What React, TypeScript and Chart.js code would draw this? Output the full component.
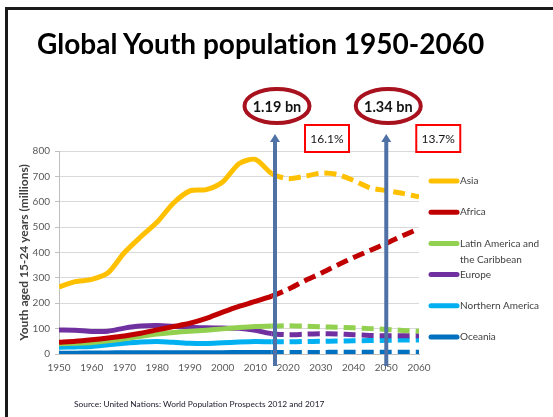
import { useEffect, useRef } from "react";
import { Chart, registerables } from "chart.js";

Chart.register(...registerables);

// ---- data ----
const years = [1950, 1955, 1960, 1965, 1970, 1975, 1980, 1985, 1990, 1995, 2000, 2005, 2010, 2015, 2020, 2025, 2030, 2035, 2040, 2045, 2050, 2055, 2060];
const asia = [265, 285, 294, 320, 400, 462, 520, 595, 643, 648, 678, 750, 767, 711, 691, 700, 713, 708, 684, 655, 644, 633, 619];
const africa = [46, 50, 56, 63, 71, 82, 95, 108, 121, 140, 165, 188, 207, 228, 255, 288, 318, 350, 380, 408, 436, 466, 494];
const latinAmerica = [40, 42, 45, 52, 60, 70, 79, 85, 90, 94, 99, 104, 108, 110, 111, 110, 107, 105, 103, 100, 97, 93, 90];
const europe = [95, 94, 89, 90, 102, 110, 112, 109, 105, 103, 102, 101, 93, 80, 76, 78, 80, 79, 76, 73, 72, 72, 72];
const northernAmerica = [27, 28, 30, 36, 42, 47, 49, 46, 42, 41, 44, 47, 49, 48, 48, 49, 50, 51, 52, 53, 54, 55, 55];
const oceania = [3, 3, 4, 4, 5, 5, 5, 5, 5, 5, 5, 6, 6, 6, 6, 6, 6, 7, 7, 7, 7, 7, 7];

const seriesNames = ["Asia", "Africa", "Latin America and the Caribbean", "Europe", "Northern America", "Oceania"];
const seriesValues = [asia, africa, latinAmerica, europe, northernAmerica, oceania];
const seriesColors = ["#FFC000", "#C00000", "#92D050", "#7030A0", "#00B0F0", "#0070C0"];

const projectionFrom = 2015;
const xRange = [1950, 2060];
const xStep = 10;
const yRange = [0, 800];
const yStep = 100;

const markerYears = [2016, 2050];
const markerTotals = ["1.19 bn", "1.34 bn"];
const markerShares = ["16.1%", "13.7%"];

const titleText = "Global Youth population 1950-2060";
const yAxisTitle = "Youth aged 15-24 years (millions)";
const sourceText = "Source: United Nations: World Population Prospects 2012 and 2017";

const FONT = "Lato, 'Open Sans', sans-serif";

const framePlugin = {
  id: "frame",
  beforeDraw(chart: any) {
    const { ctx } = chart;
    ctx.save();
    ctx.strokeStyle = "#1a1a1a";
    ctx.lineWidth = 3;
    ctx.strokeRect(6.5, 8.5, 700, 700);
    ctx.restore();
  },
};

const overlayPlugin = {
  id: "overlay",
  afterDatasetsDraw(chart: any) {
    const { ctx, chartArea, scales } = chart;
    const x = scales.x;
    ctx.save();
    markerYears.forEach((yr, i) => {
      const px = x.getPixelForValue(yr);
      const top = chartArea.top - 17;
      const bottom = chartArea.bottom + 12;
      ctx.strokeStyle = "#4F71A6";
      ctx.fillStyle = "#4F71A6";
      ctx.lineWidth = 4;
      ctx.beginPath();
      ctx.moveTo(px, top + 6);
      ctx.lineTo(px, bottom);
      ctx.stroke();
      ctx.beginPath();
      ctx.moveTo(px, top);
      ctx.lineTo(px - 5, top + 8);
      ctx.lineTo(px + 5, top + 8);
      ctx.closePath();
      ctx.fill();

      const cx = px + 2;
      const cy = chartArea.top - 45;
      ctx.strokeStyle = "#A8111E";
      ctx.lineWidth = 4;
      ctx.beginPath();
      ctx.ellipse(cx, cy, 32.5, 17, 0, 0, Math.PI * 2);
      ctx.stroke();
      ctx.fillStyle = "#141414";
      ctx.font = `bold 14.5px ${FONT}`;
      ctx.textAlign = "center";
      ctx.textBaseline = "middle";
      ctx.fillText(markerTotals[i], cx, cy + 1);

      const bx = px + 30;
      const by = chartArea.top - 26;
      const bw = 44;
      const bh = 27;
      ctx.strokeStyle = "#FF0000";
      ctx.lineWidth = 2;
      ctx.strokeRect(bx, by, bw, bh);
      ctx.fillStyle = "#141414";
      ctx.font = `12px ${FONT}`;
      ctx.fillText(markerShares[i], bx + bw / 2, by + bh / 2 + 1);
    });
    ctx.restore();
  },
  afterDraw(chart: any) {
    const { ctx, chartArea } = chart;
    ctx.save();
    const lx = chartArea.right + 12;
    const y0 = chartArea.top + 30;
    const gap = 31.2;
    ctx.font = `10px ${FONT}`;
    ctx.textAlign = "left";
    ctx.textBaseline = "middle";
    chart.data.datasets.forEach((ds: any, i: number) => {
      const y = y0 + i * gap;
      ctx.strokeStyle = ds.borderColor;
      ctx.lineWidth = 5;
      ctx.lineCap = "round";
      ctx.beginPath();
      ctx.moveTo(lx, y);
      ctx.lineTo(lx + 26, y);
      ctx.stroke();
      ctx.fillStyle = "#404040";
      const words = String(ds.label).split(" ");
      const lines: string[] = [];
      let cur = "";
      words.forEach((w) => {
        const t = cur ? cur + " " + w : w;
        if (cur && ctx.measureText(t).width > 88) {
          lines.push(cur);
          cur = w;
        } else cur = t;
      });
      lines.push(cur);
      lines.forEach((ln, j) => ctx.fillText(ln, lx + 29, y + j * 16));
    });
    ctx.restore();
  },
};

export default function App() {
  const ref = useRef<HTMLCanvasElement | null>(null);

  useEffect(() => {
    if (!ref.current) return;
    const chart = new Chart(ref.current, {
      type: "line",
      data: {
        datasets: seriesNames.map((name, i) => ({
          label: name,
          data: years.map((yr, k) => ({ x: yr, y: seriesValues[i][k] })),
          borderColor: seriesColors[i],
          backgroundColor: seriesColors[i],
          borderWidth: 5,
          pointRadius: 0,
          tension: 0.25,
          fill: false,
          segment: {
            borderDash: (c: any) => (c.p0.parsed.x >= projectionFrom ? [12, 6] : undefined),
          },
        })),
      },
      options: {
        animation: false,
        responsive: false,
        devicePixelRatio: 1,
        layout: { padding: { left: 17, right: 134, top: 151, bottom: 33 } },
        plugins: { legend: { display: false }, tooltip: { enabled: false }, title: { display: false } },
        scales: {
          x: {
            type: "linear",
            min: xRange[0],
            max: xRange[1],
            afterFit: (s: any) => {
              s.height = 30;
            },
            ticks: {
              stepSize: xStep,
              padding: 8,
              color: "#595959",
              font: { family: FONT, size: 10 },
              callback: (v: any) => String(v),
              maxRotation: 0,
            },
            grid: { display: false, drawTicks: false },
            border: { display: true, color: "#bfbfbf", width: 1 },
          },
          y: {
            min: yRange[0],
            max: yRange[1],
            afterFit: (s: any) => {
              s.width = 42;
            },
            ticks: {
              stepSize: yStep,
              padding: 5,
              color: "#595959",
              font: { family: FONT, size: 10 },
            },
            grid: { color: "#d9d9d9", tickLength: 4, tickColor: "#bfbfbf" },
            border: { display: true, color: "#bfbfbf" },
            title: {
              display: true,
              text: yAxisTitle,
              color: "#404040",
              font: { family: FONT, size: 12, weight: "bold" },
              padding: 0,
            },
          },
        },
      },
      plugins: [framePlugin, overlayPlugin],
    });
    return () => chart.destroy();
  }, []);

  return (
    <div style={{ position: "absolute", left: 0, top: 0, width: 553, height: 417, overflow: "hidden", background: "#fff" }}>
      <canvas ref={ref} width={553} height={417} style={{ position: "absolute", left: 0, top: 0, width: 553, height: 417 }} />
      <div
        style={{
          position: "absolute",
          left: 37,
          top: 29,
          fontFamily: FONT,
          fontWeight: 700,
          fontSize: 28,
          lineHeight: "28px",
          color: "#000",
          whiteSpace: "nowrap",
          fontVariantLigatures: "none",
        }}
      >
        {titleText}
      </div>
      <div
        style={{
          position: "absolute",
          left: 74,
          top: 399,
          fontFamily: FONT,
          fontSize: 8.4,
          lineHeight: "10px",
          color: "#1a1a2a",
          whiteSpace: "nowrap",
        }}
      >
        {sourceText}
      </div>
    </div>
  );
}
